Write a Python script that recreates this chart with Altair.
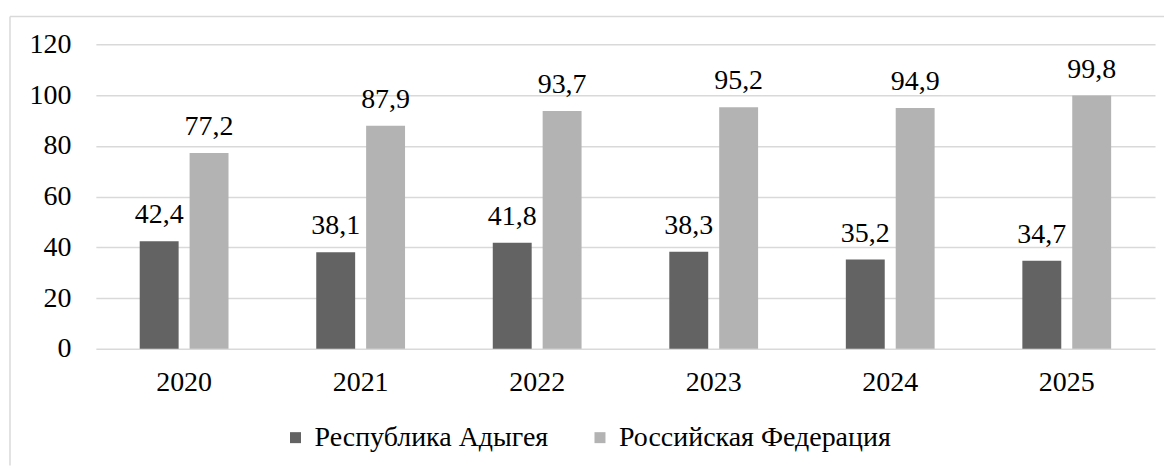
import altair as alt
import pandas as pd

years = ["2020", "2021", "2022", "2023", "2024", "2025"]
adygea = [42.4, 38.1, 41.8, 38.3, 35.2, 34.7]
russia = [77.2, 87.9, 93.7, 95.2, 94.9, 99.8]
series = ["Республика Адыгея", "Российская Федерация"]
colors = ["#636363", "#b3b3b3"]

rows = []
for i, y in enumerate(years):
    rows.append({"year": y, "series": series[0], "value": adygea[i]})
    rows.append({"year": y, "series": series[1], "value": russia[i]})
df = pd.DataFrame(rows)

FONT = "serif"
FS = 28

x = alt.X("year:N", sort=years, title=None,
          scale=alt.Scale(paddingInner=0.497, paddingOuter=0.2485),
          axis=alt.Axis(labelAngle=0, domain=False, ticks=False, labelPadding=20,
                        labelFont=FONT, labelFontSize=FS, labelColor="#000000"))
xo = alt.XOffset("series:N", sort=series,
                 scale=alt.Scale(paddingInner=0.22, paddingOuter=0))
y = alt.Y("value:Q", title=None,
          scale=alt.Scale(domain=[0, 120], nice=False),
          axis=alt.Axis(values=[0, 20, 40, 60, 80, 100, 120], domain=False, ticks=False,
                        labelPadding=25, labelFont=FONT, labelFontSize=FS,
                        labelColor="#000000", gridColor="#d9d9d9", gridWidth=1.5))

base = alt.Chart(df)

bars = base.mark_bar().encode(
    x=x, xOffset=xo, y=y,
    color=alt.Color("series:N", sort=series,
                    scale=alt.Scale(domain=series, range=colors),
                    legend=alt.Legend(title=None, orient="none", direction="horizontal",
                                      legendX=186, legendY=380,
                                      symbolType="square", symbolSize=121,
                                      symbolStrokeWidth=0, labelOffset=5,
                                      columnPadding=37, labelLimit=0,
                                      labelFont=FONT, labelFontSize=FS,
                                      labelColor="#000000")),
)

labels = base.transform_calculate(
    lbl="replace(format(datum.value, '.1f'), '.', ',')"
).mark_text(baseline="alphabetic", dy=-18, font=FONT, fontSize=FS, color="#000000").encode(
    x=x, xOffset=xo, y=y, text="lbl:N"
)

frame_data = pd.DataFrame({"a": [0]})
frame_top = alt.Chart(frame_data).mark_rule(
    stroke="#d9d9d9", strokeWidth=1.5, clip=False
).encode(x=alt.value(-86), x2=alt.value(1070), y=alt.value(-28))
frame_left = alt.Chart(frame_data).mark_rule(
    stroke="#d9d9d9", strokeWidth=1.5, clip=False
).encode(x=alt.value(-86), y=alt.value(-28), y2=alt.value(422))

chart = alt.layer(frame_top, frame_left, bars, labels).properties(
    width=1061, height=305,
    padding={"left": 1, "top": 7, "right": 0, "bottom": 0},
    view=alt.ViewBackground(strokeWidth=0),
)

chart.save("out.html", embed_options={"renderer": "svg", "actions": False})
